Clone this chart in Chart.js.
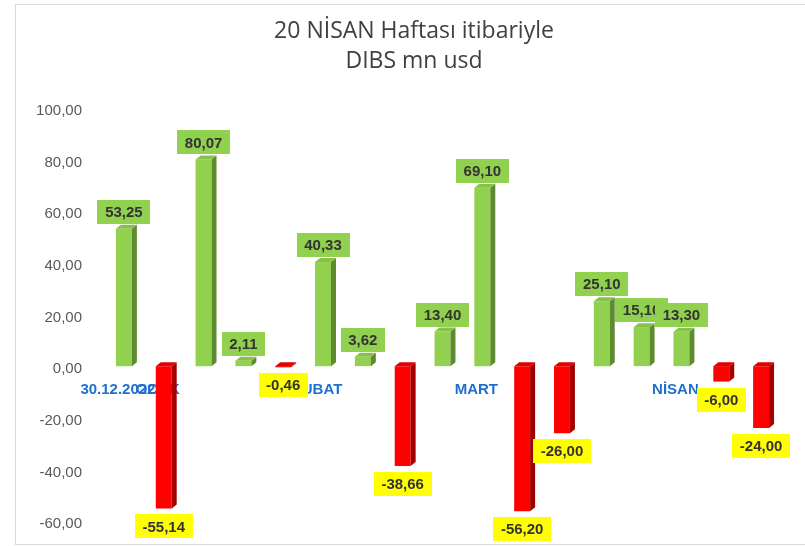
<!DOCTYPE html>
<html><head><meta charset="utf-8">
<script src="https://cdn.jsdelivr.net/npm/chart.js@4.4.0/dist/chart.umd.min.js"></script>
<style>html,body{margin:0;padding:0;background:#fff}#wrap{width:805px;height:546px}</style>
</head><body><div id="wrap"><canvas id="c" width="805" height="546"></canvas></div>
<script>
const titleLines = ['20 NİSAN Haftası itibariyle', 'DIBS mn usd'];
const categories = ['30.12.2022','OCAK','','','','ŞUBAT','','','','MART','','','','','NİSAN','',''];
const values = [53.25,-55.14,80.07,2.11,-0.46,40.33,3.62,-38.66,13.40,69.10,-56.20,-26.00,25.10,15.10,13.30,-6.00,-24.00];
const yMin = -60, yMax = 100, yStep = 20;

const fmt = v => v.toFixed(2).replace('.', ',');

const frame = {
  id: 'frame',
  beforeDraw(chart) {
    const ctx = chart.ctx;
    ctx.save();
    ctx.fillStyle = '#fff';
    ctx.fillRect(0, 0, chart.width, chart.height);
    ctx.strokeStyle = '#D9D9D9';
    ctx.lineWidth = 1;
    ctx.strokeRect(15.5, 4.5, 800, 540);
    ctx.restore();
  }
};

const chartTitle = {
  id: 'chartTitle',
  afterDraw(chart) {
    const ctx = chart.ctx;
    ctx.save();
    ctx.font = '23px "Open Sans", sans-serif';
    ctx.fillStyle = '#404040';
    ctx.textAlign = 'center';
    ctx.textBaseline = 'middle';
    titleLines.forEach((t, i) => ctx.fillText(t, 414, 31 + 30 * i));
    ctx.restore();
  }
};

const bar3d = {
  id: 'bar3d',
  afterDatasetsDraw(chart) {
    const ctx = chart.ctx;
    const dx = 5, dy = 4;
    ctx.save();
    chart.getDatasetMeta(0).data.forEach((bar, i) => {
      const pos = values[i] >= 0;
      const half = bar.width / 2;
      const xl = bar.x - half, xr = bar.x + half;
      const top = Math.min(bar.y, bar.base), bottom = Math.max(bar.y, bar.base);
      ctx.fillStyle = pos ? '#5E8B2F' : '#A30000';
      ctx.beginPath();
      ctx.moveTo(xr, top); ctx.lineTo(xr + dx, top - dy);
      ctx.lineTo(xr + dx, bottom - dy); ctx.lineTo(xr, bottom);
      ctx.closePath(); ctx.fill();
      ctx.fillStyle = pos ? '#86C14A' : '#E00000';
      ctx.beginPath();
      ctx.moveTo(xl, top); ctx.lineTo(xr, top);
      ctx.lineTo(xr + dx, top - dy); ctx.lineTo(xl + dx, top - dy);
      ctx.closePath(); ctx.fill();
    });
    ctx.restore();
  }
};

const valueLabels = {
  id: 'valueLabels',
  afterDatasetsDraw(chart) {
    const ctx = chart.ctx;
    ctx.save();
    ctx.font = 'bold 15px "Liberation Sans", Arial, sans-serif';
    ctx.textAlign = 'center';
    ctx.textBaseline = 'middle';
    chart.getDatasetMeta(0).data.forEach((bar, i) => {
      const v = values[i];
      const txt = fmt(v);
      const w = Math.round(ctx.measureText(txt).width + 15);
      const h = 24;
      const cy = v >= 0 ? bar.y - 5 - h / 2 : bar.y + 6 + h / 2;
      ctx.fillStyle = v >= 0 ? '#92D050' : '#FFFF00';
      ctx.fillRect(Math.round(bar.x - w / 2), Math.round(cy - h / 2), w, h);
      ctx.fillStyle = '#333333';
      ctx.fillText(txt, bar.x, cy + 1);
    });
    ctx.restore();
  }
};

new Chart(document.getElementById('c'), {
  type: 'bar',
  data: {
    labels: categories,
    datasets: [{
      data: values,
      backgroundColor: values.map(v => v >= 0 ? '#92D050' : '#FF0000'),
      borderWidth: 0,
      barPercentage: 0.4,
      categoryPercentage: 1.0
    }]
  },
  options: {
    responsive: false,
    animation: false,
    devicePixelRatio: 1,
    layout: { padding: { left: 15, right: 24, top: 108, bottom: 25 } },
    plugins: {
      legend: { display: false },
      tooltip: { enabled: false },
      title: { display: false }
    },
    scales: {
      x: {
        position: { y: 0 },
        grid: { display: false, drawTicks: false },
        border: { display: false },
        ticks: {
          autoSkip: false, minRotation: 0, maxRotation: 0,
          color: '#1F6FD0',
          font: { family: '"Liberation Sans", Arial, sans-serif', size: 15, weight: 'bold' },
          padding: 15,
          labelOffset: -6
        }
      },
      y: {
        min: yMin, max: yMax,
        grid: { display: false, drawTicks: false },
        border: { display: false },
        afterFit: (scale) => { scale.width = 89; scale.paddingTop = 0; scale.paddingBottom = 0; },
        ticks: {
          stepSize: yStep,
          color: '#595959',
          font: { family: '"Liberation Sans", Arial, sans-serif', size: 15 },
          padding: 22,
          labelOffset: 3,
          callback: (v) => fmt(v)
        }
      }
    }
  },
  plugins: [frame, bar3d, valueLabels, chartTitle]
});
</script>
</body></html>
